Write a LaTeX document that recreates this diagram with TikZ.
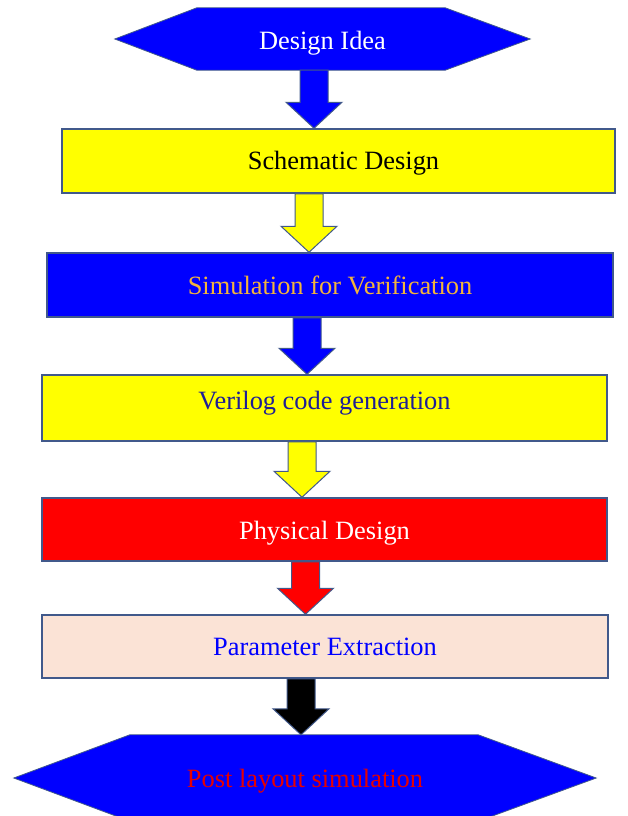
\documentclass[tikz,border=0pt]{standalone}
\usepackage{fontspec}
\setmainfont{Liberation Serif}
\usetikzlibrary{backgrounds,calc}
\definecolor{edge}{RGB}{65,89,139}
\definecolor{pblue}{RGB}{0,0,255}
\definecolor{pyellow}{RGB}{255,255,0}
\definecolor{pred}{RGB}{255,0,0}
\definecolor{ppeach}{RGB}{251,227,214}
\definecolor{gold}{RGB}{242,180,60}
\definecolor{navy}{RGB}{30,30,150}
\definecolor{tred}{RGB}{230,0,0}
\tikzset{
  stagebox/.style={draw=edge, line width=1.5pt, minimum height=64pt, inner sep=0pt,
    font=\fontsize{26.4}{30}\selectfont},
  hexnode/.style={inner sep=0pt, font=\fontsize{26.4}{30}\selectfont},
  hexfill/.style={fill=pblue, draw=edge, line width=0.8pt},
  fat/.style={draw=edge, line width=1pt, line join=miter}
}
\newcommand\fatarrow[4]{%
  \path[fat,fill=#4] let \p1=(#2.south), \p2=(#3.north) in
    ({#1pt-14pt},\y1) -- ({#1pt-14pt},{\y2+26pt}) -- ({#1pt-28pt},{\y2+26pt})
    -- ({#1pt},\y2) -- ({#1pt+28pt},{\y2+26pt}) -- ({#1pt+14pt},{\y2+26pt})
    -- ({#1pt+14pt},\y1) -- cycle;}
\begin{document}
\begin{tikzpicture}[x=1pt,y=-1pt]
\useasboundingbox (0,0) rectangle (627,816);

% top hexagon
\node[hexnode, minimum width=415pt, minimum height=62pt, text=white, text height=26pt, text depth=5.8pt] (idea) at (322.5,39) {Design Idea};

\node[stagebox, fill=pyellow, minimum width=553pt, text=black, text height=22pt, text depth=5.8pt] (schem) at (338.5,161) {\hspace*{10pt}Schematic Design};
\node[stagebox, fill=pblue, minimum width=566pt, text=gold] (sim) at (330,285) {Simulation for Verification};
\node[stagebox, fill=pyellow, minimum width=565pt, minimum height=66pt, text=navy, text height=18pt, text depth=15pt] (veri) at (324.5,408) {Verilog code generation};
\node[stagebox, fill=pred, minimum width=565pt, minimum height=63pt, text=white, text height=26pt, text depth=5.8pt] (phys) at (324.5,529.5) {Physical Design};
\node[stagebox, fill=ppeach, minimum width=566pt, minimum height=63pt, text=pblue] (param) at (325,646.5) {Parameter Extraction};

% bottom hexagon
\node[hexnode, minimum width=582pt, minimum height=86pt, text=tred, text height=24pt, text depth=5.8pt] (post) at (305,778) {Post layout simulation};

\begin{scope}[on background layer]
\fill[white] (0,0) rectangle (627,816);
\path[hexfill] (idea.west) -- ([xshift=82pt]idea.north west) -- ([xshift=-85pt]idea.north east)
  -- (idea.east) -- ([xshift=-85pt]idea.south east) -- ([xshift=82pt]idea.south west) -- cycle;
\path[hexfill] (post.west) -- ([xshift=116pt]post.north west) -- ([xshift=-118pt]post.north east)
  -- (post.east) -- ([xshift=-118pt]post.south east) -- ([xshift=116pt]post.south west) -- cycle;
\end{scope}

% block arrows
\fatarrow{314}{idea}{schem}{pblue}
\fatarrow{309}{schem}{sim}{pyellow}
\fatarrow{307}{sim}{veri}{pblue}
\fatarrow{302}{veri}{phys}{pyellow}
\fatarrow{305.5}{phys}{param}{pred}
\fatarrow{301}{param}{post}{black}
\end{tikzpicture}
\end{document}
